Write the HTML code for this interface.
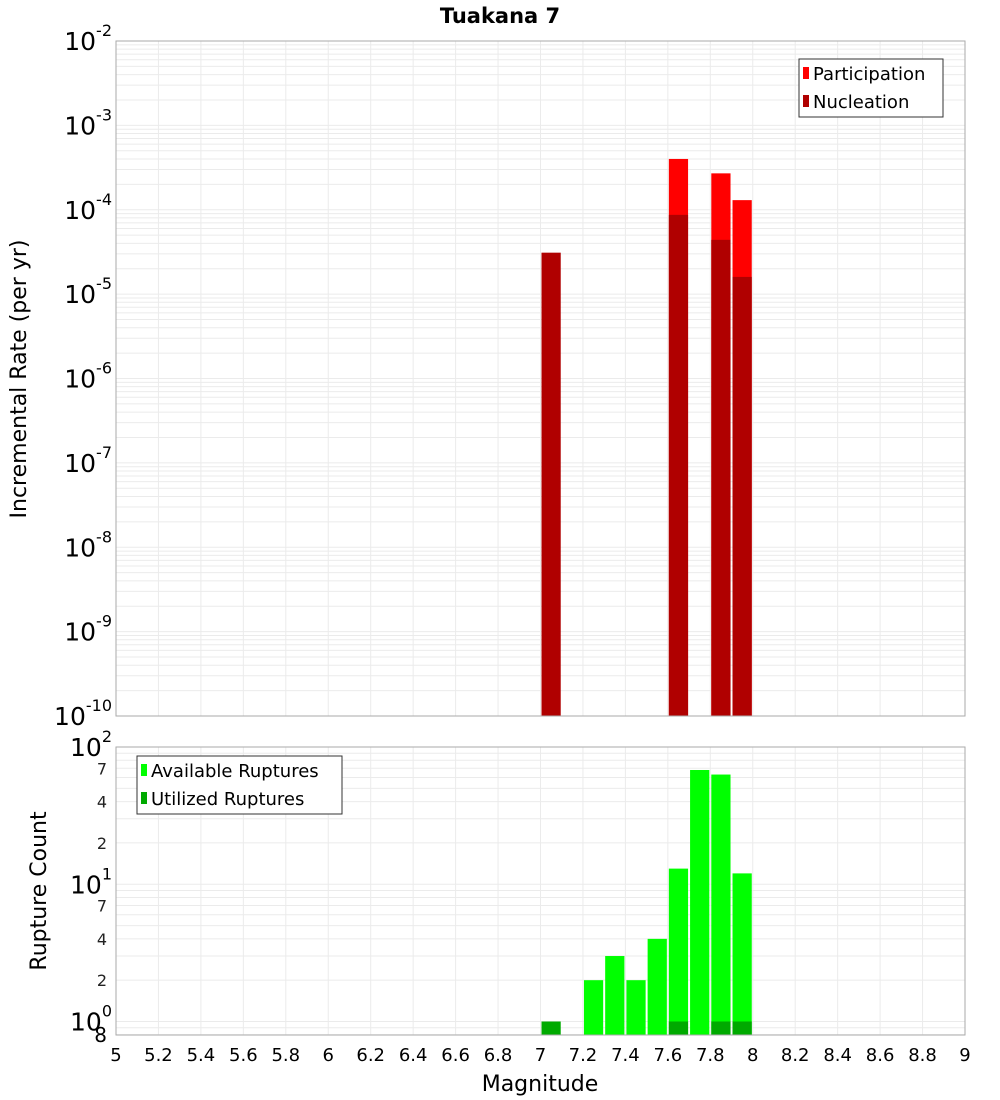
<!DOCTYPE html>
<html><head><meta charset="utf-8"><style>
body{margin:0;background:#fff;}
svg{display:block;font-family:"DejaVu Sans","Liberation Sans",sans-serif;}
</style></head><body>
<svg id="chart" width="1000" height="1100" viewBox="0 0 1000 1100">
<text x="500" y="23" text-anchor="middle" font-size="21" font-weight="bold">Tuakana 7</text>
<text transform="translate(26,379) rotate(-90)" text-anchor="middle" font-size="22">Incremental Rate (per yr)</text>
<text transform="translate(46,891) rotate(-90)" text-anchor="middle" font-size="22">Rupture Count</text>
<text x="540" y="1091" text-anchor="middle" font-size="22">Magnitude</text>
<g id="topg"></g><g id="botg"></g><g id="xtg"></g>
<g>
<rect x="799" y="59" width="144" height="58" fill="#fff" stroke="#333"/>
<rect x="803" y="67" width="6" height="12" fill="#ff0000"/>
<text x="813" y="80" font-size="18">Participation</text>
<rect x="803" y="95" width="6" height="12" fill="#b00000"/>
<text x="813" y="108" font-size="18">Nucleation</text>
</g>
<g>
<rect x="137" y="756" width="205" height="58" fill="#fff" stroke="#333"/>
<rect x="141" y="764" width="6" height="12" fill="#00ff00"/>
<text x="151" y="777" font-size="18">Available Ruptures</text>
<rect x="141" y="792" width="6" height="12" fill="#00aa00"/>
<text x="151" y="805" font-size="18">Utilized Ruptures</text>
</g>
</svg>
<script>
const mags=[7.0,7.2,7.3,7.4,7.5,7.6,7.7,7.8,7.9];
const participation=[null,null,null,null,null,4.0e-4,null,2.7e-4,1.3e-4];
const nucleation=[3.1e-5,null,null,null,null,8.7e-5,null,4.4e-5,1.6e-5];
const available=[null,2,3,2,4,13,68,63,12];
const utilized=[1,null,null,null,null,1,null,1,1];
const xTicks=[5,5.2,5.4,5.6,5.8,6,6.2,6.4,6.6,6.8,7,7.2,7.4,7.6,7.8,8,8.2,8.4,8.6,8.8,9];
const topDecades=[-10,-9,-8,-7,-6,-5,-4,-3,-2];
const botDecades=[0,1,2];
const botMinor=[2,4,7];
const NS='http://www.w3.org/2000/svg';
const L=116,R=965;
const X=m=>L+(m-5)*(R-L)/4;
const TT=41,TB=716;
const YT=v=>TB-(Math.log10(v)+10)*(TB-TT)/8;
const BT=747,BB=1035,B0=1021.5;
const YB=v=>B0-Math.log10(v)*(B0-BT)/2;
function mk(p,t,a){const e=document.createElementNS(NS,t);for(const k in a)e.setAttribute(k,a[k]);p.appendChild(e);return e;}
const gTop=document.getElementById('topg'),gBot=document.getElementById('botg'),gXt=document.getElementById('xtg');
for(let d=-10;d<-2;d++)for(let k=1;k<10;k++){const y=YT(k*Math.pow(10,d));
 const g=mk(gTop,'line',{x1:L,x2:R,y1:y,y2:y,stroke:'#ebebeb','stroke-width':1});
 
 }
for(let d=-1;d<2;d++)for(let k=1;k<10;k++){const y=YB(k*Math.pow(10,d));if(y<BT||y>BB)continue;
 const g=mk(gBot,'line',{x1:L,x2:R,y1:y,y2:y,stroke:'#ebebeb','stroke-width':1});
 
 }
for(const t of xTicks){const x=X(t);
 const a=mk(gTop,'line',{x1:x,x2:x,y1:TT,y2:TB,stroke:'#ebebeb'});
 
 
 const b=mk(gBot,'line',{x1:x,x2:x,y1:BT,y2:BB,stroke:'#ebebeb'});
 
 
 const tx=mk(gXt,'text',{x:x,y:1061,'text-anchor':'middle','font-size':18});
 tx.textContent=String(t);
 
 }
mags.forEach((m,i)=>{
 const x0=X(m)+1,w=X(m+0.1)-X(m)-2;
 if(participation[i]!=null){const r=mk(gTop,'rect',{x:x0,y:YT(participation[i]),width:w,height:TB-YT(participation[i]),fill:'#ff0000'});
  
  }
 if(nucleation[i]!=null){const r=mk(gTop,'rect',{x:x0,y:YT(nucleation[i]),width:w,height:TB-YT(nucleation[i]),fill:'#b00000'});
  
  }
 if(available[i]!=null){const r=mk(gBot,'rect',{x:x0,y:YB(available[i]),width:w,height:BB-YB(available[i]),fill:'#00ff00'});
  
  }
 if(utilized[i]!=null){const r=mk(gBot,'rect',{x:x0,y:YB(utilized[i]),width:w,height:BB-YB(utilized[i]),fill:'#00aa00'});
  
  }
});
const f1=mk(gTop,'rect',{x:L,y:TT,width:R-L,height:TB-TT,fill:'none',stroke:'#aaa'});


const f2=mk(gBot,'rect',{x:L,y:BT,width:R-L,height:BB-BT,fill:'none',stroke:'#aaa'});


function decLabel(p,y,e,name){const t=mk(p,'text',{x:112,y:y+9,'text-anchor':'end','font-size':25});
 
 
 t.textContent='10';
 const s=mk(t,'tspan',{dy:-14,'font-size':16});s.textContent=String(e);}
topDecades.forEach(d=>decLabel(gTop,YT(Math.pow(10,d)),d,'top-y-tick-label'));
botDecades.forEach(d=>decLabel(gBot,YB(Math.pow(10,d)),d,'bottom-y-tick-label'));
for(let d=0;d<2;d++)botMinor.forEach(k=>{const t=mk(gBot,'text',{x:107,y:YB(k*Math.pow(10,d))+6,'text-anchor':'end','font-size':16,fill:'#222'});
 t.textContent=String(k);
 
 });
const e8=mk(gBot,'text',{x:107,y:1042,'text-anchor':'end','font-size':20});
e8.textContent='8';


</script>
</body></html>
